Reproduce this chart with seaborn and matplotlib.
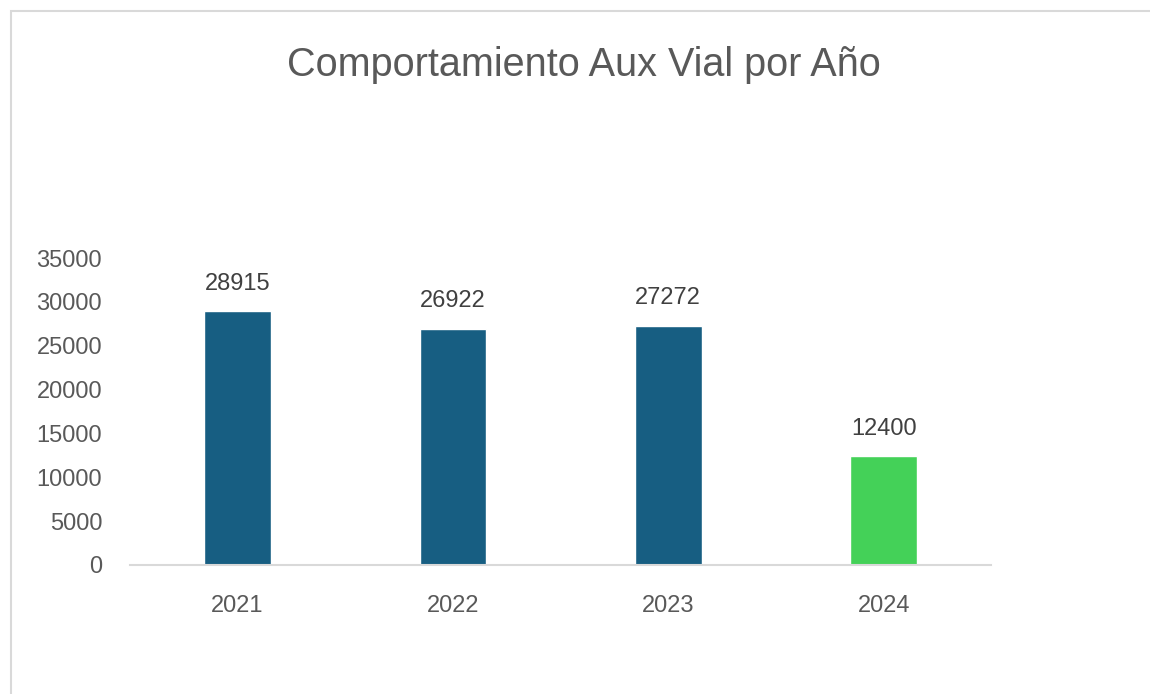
import matplotlib
matplotlib.use("Agg")
import matplotlib.pyplot as plt
import seaborn as sns
import pandas as pd
from matplotlib.patches import Rectangle

years = ["2021", "2022", "2023", "2024"]
totals = [28915, 26922, 27272, 12400]
bar_colors = ["#175E82", "#175E82", "#175E82", "#44D158"]

df = pd.DataFrame({"year": years, "total": totals})

sns.set_style("white")
plt.rcParams["font.family"] = ["Liberation Sans", "DejaVu Sans"]

fig = plt.figure(figsize=(11.5, 6.94), dpi=100)
ax = fig.add_axes([0.113, 0.186, 0.749, 0.442])

sns.barplot(data=df, x="year", y="total", hue="year", palette=bar_colors,
            width=0.31, legend=False, ax=ax, saturation=1)

for i, v in enumerate(totals):
    ax.annotate(str(v), (i, v), xytext=(0, 12), textcoords="offset points",
                ha="center", va="bottom", fontsize=17, color="#404040")

ax.set_ylim(0, 35000)
ax.set_yticks(range(0, 35001, 5000))
ax.set_xlim(-0.5, 3.5)
ax.set_xlabel("")
ax.set_ylabel("")
for s in ["top", "right", "left"]:
    ax.spines[s].set_visible(False)
ax.spines["bottom"].set_color("#D9D9D9")
ax.spines["bottom"].set_linewidth(1.5)
ax.tick_params(axis="both", length=0, labelsize=17, labelcolor="#595959")
ax.tick_params(axis="x", pad=22)
ax.tick_params(axis="y", pad=20)

fig.text(0.508, 0.907, "Comportamiento Aux Vial por Año", ha="center", va="center",
         fontsize=28.5, color="#595959")

fig.patches.append(Rectangle((0.0096, -0.05), 1.1, 1.034, transform=fig.transFigure,
                             fill=False, edgecolor="#D9D9D9", linewidth=1.5))

fig.savefig("out.png", dpi=100)
